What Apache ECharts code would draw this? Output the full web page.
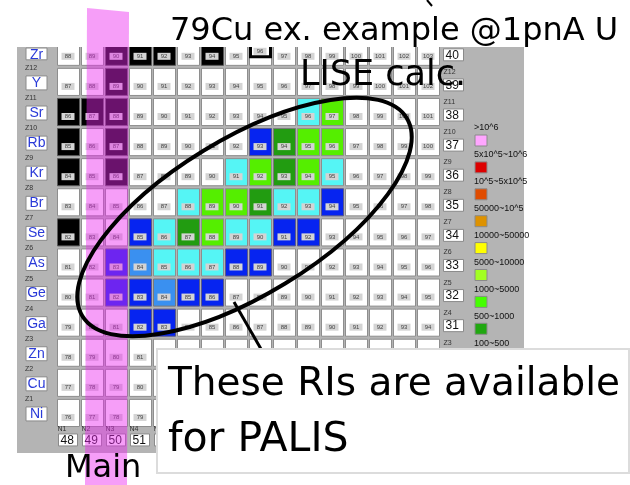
<!DOCTYPE html>
<html>
<head>
<meta charset="utf-8">
<title>79Cu ex. example</title>
<script src="https://cdn.jsdelivr.net/npm/echarts@6/dist/echarts.min.js"></script>
<style>
html, body { margin: 0; padding: 0; background: #fff; }
#chart { width: 630px; height: 485px; }
</style>
</head>
<body>
<div id="chart"></div>
<script>
// columns: neutron number N, left to right
const neutrons = [48, 49, 50, 51, 52, 53, 54, 55, 56, 57, 58, 59, 60, 61, 62, 63]
// rows: proton number Z and symbol, top to bottom
const protons = [40, 39, 38, 37, 36, 35, 34, 33, 32, 31, 30, 29, 28]
const elements = ['Zr', 'Y', 'Sr', 'Rb', 'Kr', 'Br', 'Se', 'As', 'Ge', 'Ga', 'Zn', 'Cu', 'Ni']
// yield class of every cell, one char per N (same row order as protons)
// . nothing  S stable  F framed  c 100~500  d 500~1000  g 1000~5000  l light blue  b blue
const yieldRows = [
  '..SSS.S.F.......', // Zr
  '..S.............', // Y
  'SSS.......cg....', // Sr
  'S.S.....bdgg....', // Rb
  'S.S....cgdgc....', // Kr
  '.....cggdccb....', // Br
  'S..bcdgccbb.....', // Se
  '..blcccbb.......', // As
  '..bblbb.........', // Ge
  '...bb...........', // Ga
  '................', // Zn
  '................', // Cu
  '................'  // Ni
]
// colour legend (rate, pps)
const legendLabels = ['>10^6', '5x10^5~10^6', '10^5~5x10^5', '50000~10^5', '10000~50000',
  '5000~10000', '1000~5000', '500~1000', '100~500']
const legendColors = ['#ffa6ff', '#dd0000', '#e04c00', '#de9200', '#ffff00',
  '#a2ff22', '#44ff00', '#20a810', '#55f5f5']

const cellStyle = {
  '.': { fill: '#ffffff', stroke: '#8e8e8e', lw: 1 },
  'S': { fill: '#000000', stroke: '#5a5a5a', lw: 1 },
  'F': { fill: '#ffffff', stroke: '#8e8e8e', lw: 1 },
  'c': { fill: '#55f5f5', stroke: '#8e8e8e', lw: 1 },
  'd': { fill: '#229c11', stroke: '#7a7a7a', lw: 1 },
  'g': { fill: '#55ee00', stroke: '#8e8e8e', lw: 1 },
  'l': { fill: '#3a90f0', stroke: '#7a7a7a', lw: 1 },
  'b': { fill: '#0624f0', stroke: '#5a5a8a', lw: 1 }
}

const cells = []
protons.forEach((z, i) => {
  neutrons.forEach((n, j) => {
    cells.push({ n, z, cls: yieldRows[i][j] })
  })
})

const FONT = '"Liberation Sans", Arial, sans-serif'
const HAND = '"DejaVu Sans", sans-serif'
const PANEL_TOP = 47

function renderCell(params, api) {
  const c = cells[params.dataIndex]
  const p = api.coord([c.n, c.z])
  const s = api.size([1, 1])
  const w = s[0] - 2, h = s[1] - 3
  const st = cellStyle[c.cls]
  const framed = c.cls === 'F'
  const ly = framed ? p[1] - 4 : p[1] + 1
  const kids = [
    { type: 'rect', shape: { x: p[0] - w / 2, y: p[1] - h / 2, width: w, height: h },
      style: { fill: st.fill, stroke: st.stroke, lineWidth: st.lw } }
  ]
  if (framed) {
    kids.push({ type: 'rect', shape: { x: p[0] - w / 2 + 1, y: p[1] - 7, width: w - 2, height: 12 },
      style: { fill: '#fff', stroke: '#000', lineWidth: 3 } })
  }
  kids.push(
    { type: 'rect', shape: { x: p[0] - 7, y: ly, width: 13, height: 7 }, style: { fill: '#d4d4d4' } },
    { type: 'text', style: { x: p[0] - 0.5, y: ly + 3.5, text: String(c.n + c.z),
      fill: '#444', font: '6px ' + FONT, align: 'center', verticalAlign: 'middle' } }
  )
  return { type: 'group', children: kids }
}

// element symbol boxes on the left, Z boxes on the right
function renderRowLabel(params, api) {
  const i = params.dataIndex
  const z = protons[i]
  const p = api.coord([neutrons[0], z])
  const q = api.coord([neutrons[neutrons.length - 1], z])
  const idx = 'Z' + (z - 27)
  const kids = []
  if (p[1] - 14 > PANEL_TOP) {
    kids.push(
      { type: 'text', style: { x: 25, y: p[1] - 14, text: idx, fill: '#333', font: '7px ' + FONT, verticalAlign: 'middle' } },
      { type: 'text', style: { x: q[0] + 15, y: q[1] - 10, text: idx, fill: '#333', font: '7px ' + FONT, verticalAlign: 'middle' } }
    )
  }
  const top = Math.max(p[1] - 6, PANEL_TOP + 1)
  kids.push(
    { type: 'rect', shape: { x: 26, y: top, width: 21, height: p[1] + 8 - top },
      style: { fill: '#fff', stroke: '#8a8a8a', lineWidth: 1 } },
    { type: 'text', style: { x: 36.5, y: Math.max(p[1] + 1, PANEL_TOP + 8), text: elements[i], fill: '#2a3ad8',
      font: '14px ' + FONT, align: 'center', verticalAlign: 'middle' } },
    { type: 'rect', shape: { x: q[0] + 15, y: q[1] - 3, width: 20, height: 12 },
      style: { fill: '#fff', stroke: '#8a8a8a', lineWidth: 1 } },
    { type: 'text', style: { x: q[0] + 17, y: q[1] + 3.5, text: String(z), fill: '#111',
      font: '12px ' + FONT, verticalAlign: 'middle' } }
  )
  return { type: 'group', children: kids }
}

// N boxes under the grid
function renderColLabel(params, api) {
  const n = neutrons[params.dataIndex]
  const p = api.coord([n, protons[protons.length - 1]])
  return {
    type: 'group',
    children: [
      { type: 'text', style: { x: p[0] - 11, y: p[1] + 16, text: 'N' + (params.dataIndex + 1), fill: '#333', font: '7px ' + FONT, verticalAlign: 'middle' } },
      { type: 'rect', shape: { x: p[0] - 10, y: p[1] + 21, width: 19, height: 12 },
        style: { fill: '#fff', stroke: '#8a8a8a', lineWidth: 1 } },
      { type: 'text', style: { x: p[0] - 8, y: p[1] + 27.5, text: String(n), fill: '#111',
        font: '12px ' + FONT, verticalAlign: 'middle' } }
    ]
  }
}

const legendGraphics = []
legendLabels.forEach((lab, i) => {
  const y = 128 + i * 26.9
  legendGraphics.push({ type: 'text', z: 5, style: { x: 474, y, text: lab, fill: '#111', font: '9px ' + FONT, verticalAlign: 'middle' } })
  legendGraphics.push({ type: 'rect', z: 5, shape: { x: 475, y: y + 7, width: 12, height: 11 },
    style: { fill: legendColors[i], stroke: '#8a8a8a', lineWidth: 1 } })
})

const chart = echarts.init(document.getElementById('chart'), null, { renderer: 'canvas' })
chart.setOption({
  animation: false,
  grid: { left: 56.5, top: PANEL_TOP, width: 384, height: 381 },
  xAxis: { type: 'value', min: 47.5, max: 63.5, show: false },
  yAxis: { type: 'value', min: 27.5, max: 40.16, show: false },
  series: [
    { type: 'custom', renderItem: renderCell, clip: true, encode: { x: 0, y: 1 },
      data: cells.map(c => [c.n, c.z]) },
    { type: 'custom', renderItem: renderRowLabel, clip: false, encode: { x: 0, y: 1 },
      data: protons.map(z => [neutrons[0], z]) },
    { type: 'custom', renderItem: renderColLabel, clip: false, encode: { x: 0, y: 1 },
      data: neutrons.map(n => [n, protons[protons.length - 1]]) }
  ],
  graphic: [
    // grey LISE window
    { type: 'rect', z: -1, shape: { x: 17, y: PANEL_TOP, width: 507, height: 406 }, style: { fill: '#b4b4b4' } },
    ...legendGraphics,
    // "Main" beam column
    { type: 'polygon', z: 100, shape: { points: [[87, 8], [129, 12], [127, 485], [85, 485]] },
      style: { fill: 'rgba(235, 40, 240, 0.45)' } },
    { type: 'ellipse', z: 110, x: 244.5, y: 217, rotation: 31.4 * Math.PI / 180,
      shape: { cx: 0, cy: 0, rx: 190, ry: 78 }, style: { fill: null, stroke: '#000', lineWidth: 4 } },
    { type: 'line', z: 110, shape: { x1: 234, y1: 302, x2: 261, y2: 349 }, style: { stroke: '#000', lineWidth: 3 } },
    { type: 'line', z: 110, shape: { x1: 427, y1: 0, x2: 432, y2: 6 }, style: { stroke: '#000', lineWidth: 2 } },
    { type: 'rect', z: 120, shape: { x: 157, y: 349, width: 472, height: 124 },
      style: { fill: '#fff', stroke: '#dcdcdc', lineWidth: 2 } },
    { type: 'text', z: 130, style: { x: 170, y: 48, text: '79Cu ex. example @1pnA U', fill: '#000', font: '32px ' + HAND, verticalAlign: 'bottom' } },
    { type: 'text', z: 130, style: { x: 300, y: 93, text: 'LISE calc.', fill: '#000', font: '35px ' + HAND, verticalAlign: 'bottom' } },
    { type: 'text', z: 130, style: { x: 168, y: 404, text: 'These RIs are available', fill: '#000', font: '39px ' + HAND, verticalAlign: 'bottom' } },
    { type: 'text', z: 130, style: { x: 168, y: 461, text: 'for PALIS', fill: '#000', font: '41px ' + HAND, verticalAlign: 'bottom' } },
    { type: 'text', z: 130, style: { x: 65, y: 485, text: 'Main', fill: '#000', font: '32px ' + HAND, verticalAlign: 'bottom' } }
  ]
})
</script>
</body>
</html>
